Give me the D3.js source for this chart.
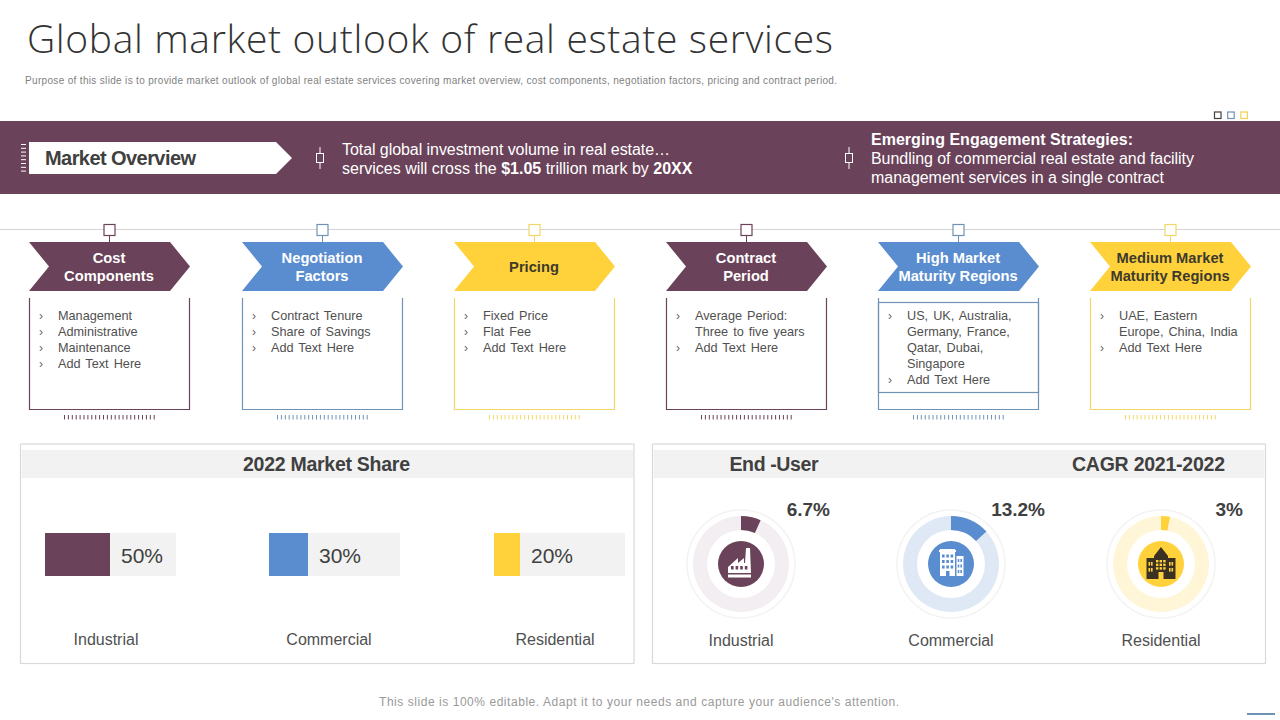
<!DOCTYPE html>
<html>
<head>
<meta charset="utf-8">
<script src="https://cdn.jsdelivr.net/npm/d3@7"></script>
<style>
  html, body { margin: 0; padding: 0; background: #fff; }
  svg { display: block; font-family: "Liberation Sans", Arial, sans-serif; }
</style>
</head>
<body>
<div id="chart"></div>
<script>
// slide data
const columnTitles = [
  ["Cost", "Components"],
  ["Negotiation", "Factors"],
  ["Pricing"],
  ["Contract", "Period"],
  ["High Market", "Maturity Regions"],
  ["Medium Market", "Maturity Regions"]
];
const columnItems = [
  [["Management"], ["Administrative"], ["Maintenance"], ["Add Text Here"]],
  [["Contract Tenure"], ["Share of Savings"], ["Add Text Here"]],
  [["Fixed Price"], ["Flat Fee"], ["Add Text Here"]],
  [["Average Period:", "Three to five years"], ["Add Text Here"]],
  [["US, UK, Australia,", "Germany, France,", "Qatar, Dubai,", "Singapore"], ["Add Text Here"]],
  [["UAE, Eastern", "Europe, China, India"], ["Add Text Here"]]
];
const segments = ["Industrial", "Commercial", "Residential"];
const shareValues = [50, 30, 20];
const cagrValues = [6.7, 13.2, 3];
const cagrLabels = ["6.7%", "13.2%", "3%"];

const purple = "#6a4259", blue = "#5a8dcf", yellow = "#ffd23c";
const segmentColors = [purple, blue, yellow];
const columnFill = [purple, blue, yellow, purple, blue, yellow];
const columnLine = ["#6a4259", "#6f93b5", "#f3d766", "#6a4259", "#6f93b5", "#f3d766"];
const columnText = ["#fff", "#fff", "#3d3a2c", "#fff", "#fff", "#3d3a2c"];
const ringTints = ["#f2eef1", "#dfe9f5", "#fff6d8"];
const textDark = "#404040";

const svg = d3.select("#chart").append("svg").attr("width", 1280).attr("height", 720);

function label(g, x, y, str, size, opts) {
  opts = opts || {};
  const t = g.append("text").attr("x", x).attr("y", y)
    .attr("font-size", size)
    .attr("fill", opts.fill || textDark)
    .attr("font-weight", opts.weight || 400)
    .attr("text-anchor", opts.anchor || "start")
    .text(str);
  if (opts.family) t.attr("font-family", opts.family);
  if (opts.length) t.attr("textLength", opts.length).attr("lengthAdjust", "spacing");
  return t;
}

// header
label(svg, 27, 53, "Global market outlook of real estate services", 39,
  { family: "'Open Sans', sans-serif", weight: 300, fill: "#333", length: 806 });
label(svg, 25, 84, "Purpose of this slide is to provide market outlook of global real estate services covering market overview, cost components, negotiation factors, pricing and contract period.", 10,
  { fill: "#7f7f7f", length: 812 });

// little squares top right
svg.selectAll("rect.dot").data(["#404040", "#6f93b5", "#f3d04f"]).enter().append("rect")
  .attr("class", "dot")
  .attr("x", (d, i) => 1214.5 + i * 13.2).attr("y", 112)
  .attr("width", 6.5).attr("height", 6.5)
  .attr("fill", "none").attr("stroke", d => d).attr("stroke-width", 1.2);

// banner
svg.append("rect").attr("x", 0).attr("y", 121).attr("width", 1280).attr("height", 73).attr("fill", purple);
svg.append("path").attr("d", "M29,142H276L292,158L276,174H29Z").attr("fill", "#fff");
svg.selectAll("line.btick").data(d3.range(8)).enter().append("line")
  .attr("class", "btick")
  .attr("x1", 21).attr("x2", 26)
  .attr("y1", d => 144.5 + d * 3.8).attr("y2", d => 144.5 + d * 3.8)
  .attr("stroke", "#fff").attr("stroke-width", 1);
label(svg, 45, 165, "Market Overview", 20, { weight: 700, length: 151 });

[320, 849].forEach(x => {
  svg.append("line").attr("x1", x).attr("x2", x).attr("y1", 147).attr("y2", 169).attr("stroke", "#fff");
  svg.append("rect").attr("x", x - 3.5).attr("y", 153.5).attr("width", 7).attr("height", 9)
    .attr("fill", purple).attr("stroke", "#fff");
});

label(svg, 342, 155, "Total global investment volume in real estate…", 16, { fill: "#fff", length: 328 });
const line2 = label(svg, 342, 174, "services will cross the ", 16, { fill: "#fff" });
line2.append("tspan").attr("font-weight", 700).text("$1.05");
line2.append("tspan").text(" trillion mark by ");
line2.append("tspan").attr("font-weight", 700).text("20XX");
label(svg, 871, 145, "Emerging Engagement Strategies:", 16, { fill: "#fff", weight: 700, length: 262 });
label(svg, 871, 164, "Bundling of commercial real estate and facility", 16, { fill: "#fff", length: 323 });
label(svg, 871, 183, "management services in a single contract", 16, { fill: "#fff", length: 293 });

// timeline rule
svg.append("line").attr("x1", 0).attr("x2", 1280).attr("y1", 229.5).attr("y2", 229.5)
  .attr("stroke", "#d4d4d4");

// six columns
const colX = d3.scalePoint().domain(d3.range(6)).range([29, 1090]);
const colW = 161;

columnTitles.forEach((title, i) => {
  const x = Math.round(colX(i) + 0.4);
  const g = svg.append("g").attr("transform", `translate(${x},0)`);
  const line = columnLine[i];

  g.append("line").attr("x1", colW / 2).attr("x2", colW / 2).attr("y1", 235).attr("y2", 242).attr("stroke", line);
  g.append("rect").attr("x", colW / 2 - 5.5).attr("y", 224.5).attr("width", 11).attr("height", 11)
    .attr("fill", "#fff").attr("stroke", line).attr("stroke-width", 1.2);

  g.append("path")
    .attr("d", `M0,242H${colW - 20}L${colW},266.5L${colW - 20},291H0L20,266.5Z`)
    .attr("fill", columnFill[i]);

  const baseY = title.length === 2 ? 263 : 272;
  title.forEach((s, k) => {
    label(g, colW / 2 - 0.5, baseY + k * 18, s, 14.7, { weight: 700, fill: columnText[i], anchor: "middle" });
  });

  // box with open top
  g.append("path").attr("d", `M0.5,298V409.5H${colW - 0.5}V298`)
    .attr("fill", "none").attr("stroke", line).attr("stroke-width", 1.2);
  if (i === 4) {
    g.append("rect").attr("x", 0.5).attr("y", 302.5).attr("width", colW - 1).attr("height", 90)
      .attr("fill", "none").attr("stroke", line).attr("stroke-width", 1.2);
  }

  // bullets
  let y = 320;
  columnItems[i].forEach(item => {
    label(g, 10, y, "›", 12, { fill: "#666" });
    item.forEach(s => {
      label(g, 29, y, s, 12.7, { fill: "#505050" }).attr("word-spacing", 1.5);
      y += 16;
    });
  });

  // tick strip
  g.selectAll("line.tick").data(d3.range(24)).enter().append("line")
    .attr("class", "tick")
    .attr("x1", d => 35.5 + d * 3.9).attr("x2", d => 35.5 + d * 3.9)
    .attr("y1", 415).attr("y2", 419.5)
    .attr("stroke", line).attr("stroke-width", 1);
});

// bottom panels
[[20.5, 613.5], [652.5, 613]].forEach(p => {
  svg.append("rect").attr("x", p[0]).attr("y", 444).attr("width", p[1]).attr("height", 219.5)
    .attr("fill", "#fff").attr("stroke", "#d9d9d9").attr("stroke-width", 1.2);
  svg.append("rect").attr("x", p[0] + 1).attr("y", 450).attr("width", p[1] - 2).attr("height", 28)
    .attr("fill", "#f2f2f2");
});
label(svg, 326.5, 471, "2022 Market Share", 19.5, { weight: 700, anchor: "middle", length: 167 });
label(svg, 774, 471, "End -User", 19.5, { weight: 700, anchor: "middle", length: 89 });
label(svg, 1148.5, 471, "CAGR 2021-2022", 19.5, { weight: 700, anchor: "middle", length: 153 });

// market share bars
const barX0 = [45, 269, 494];
const labelX = [106, 329, 555];
const shareScale = d3.scaleLinear().domain([0, 100]).range([0, 130]);

segments.forEach((name, i) => {
  const g = svg.append("g").attr("transform", `translate(${barX0[i]},533)`);
  g.append("rect").attr("width", shareScale(100) + 1).attr("height", 43).attr("fill", "#f2f2f2");
  g.append("rect").attr("width", shareScale(shareValues[i])).attr("height", 43).attr("fill", segmentColors[i]);
  label(g, shareScale(shareValues[i]) + 11, 30, shareValues[i] + "%", 21);
  label(svg, labelX[i], 645, name, 16, { anchor: "middle", fill: "#505050" });
});

// icons are drawn around the donut centre
function factoryIcon(g) {
  g.append("path").attr("fill", "#fff")
    .attr("d", "M-13,3L-3,-6V-1L3,-6V-1H4L5,-16H9L10,9H-13Z");
  g.selectAll("rect.win").data(d3.range(4)).enter().append("rect")
    .attr("class", "win").attr("x", d => -10 + d * 4.6).attr("y", 2)
    .attr("width", 2.6).attr("height", 3.5).attr("fill", purple);
  g.append("rect").attr("x", -13).attr("y", 10.5).attr("width", 23).attr("height", 3).attr("fill", "#fff");
}
function officeIcon(g) {
  g.append("rect").attr("x", -11).attr("y", -15).attr("width", 15).attr("height", 27).attr("fill", "#fff");
  g.append("rect").attr("x", 5.5).attr("y", -8).attr("width", 7).attr("height", 20).attr("fill", "#fff");
  g.append("rect").attr("x", -12).attr("y", -14).attr("width", 17).attr("height", 2).attr("fill", "#fff");
  const cells = d3.cross(d3.range(3), d3.range(3));
  g.selectAll("rect.win").data(cells).enter().append("rect")
    .attr("class", "win").attr("x", d => -9 + d[0] * 4.3).attr("y", d => -9.5 + d[1] * 5.5)
    .attr("width", 2.6).attr("height", 3).attr("fill", blue);
  g.selectAll("rect.win2").data(d3.cross(d3.range(2), d3.range(3))).enter().append("rect")
    .attr("class", "win2").attr("x", d => 6.7 + d[0] * 2.7).attr("y", d => -5 + d[1] * 5.5)
    .attr("width", 1.6).attr("height", 3).attr("fill", blue);
  g.append("rect").attr("x", -5).attr("y", 7).attr("width", 3.5).attr("height", 5).attr("fill", blue);
}
function schoolIcon(g) {
  const dark = "#3a3122";
  g.append("path").attr("fill", dark)
    .attr("d", "M-14.5,-6H-7V-8L0,-17L7,-8V-6H14.5V15H-14.5Z");
  g.selectAll("rect.win").data(d3.cross(d3.range(3), d3.range(3))).enter().append("rect")
    .attr("class", "win").attr("x", d => -5 + d[0] * 3.6).attr("y", d => -4 + d[1] * 3.6)
    .attr("width", 2.4).attr("height", 2.4).attr("fill", yellow);
  g.selectAll("rect.win2").data(d3.cross([-12.5, -10, 8, 10.5], [-2, 4])).enter().append("rect")
    .attr("class", "win2").attr("x", d => d[0]).attr("y", d => d[1])
    .attr("width", 1.6).attr("height", 3.6).attr("fill", yellow);
  g.append("rect").attr("x", -2.5).attr("y", 8).attr("width", 5).attr("height", 7).attr("fill", yellow);
}
const icons = [factoryIcon, officeIcon, schoolIcon];

// CAGR donuts
const donutX = d3.scalePoint().domain(segments).range([741, 1161]);
const cagrAngle = d3.scaleLinear().domain([0, 100]).range([0, 2 * Math.PI]);
const ringArc = d3.arc().innerRadius(34).outerRadius(48);
const valueRight = [830, 1045, 1243];

segments.forEach((name, i) => {
  const cx = donutX(name);
  const g = svg.append("g").attr("transform", `translate(${cx},564)`);
  g.append("circle").attr("r", 54).attr("fill", "#fff").attr("stroke", "#f3f3f3").attr("stroke-width", 1.5);
  g.append("path").attr("d", ringArc({ startAngle: 0, endAngle: 2 * Math.PI })).attr("fill", ringTints[i]);
  g.append("path").attr("d", ringArc({ startAngle: 0, endAngle: cagrAngle(cagrValues[i]) })).attr("fill", segmentColors[i]);
  g.append("circle").attr("r", 23).attr("fill", segmentColors[i]);
  icons[i](g);
  label(svg, cx, 646, name, 16, { anchor: "middle", fill: "#505050" });
  label(svg, valueRight[i], 516, cagrLabels[i], 19, { weight: 700, anchor: "end" });
});

// footer
label(svg, 379, 706, "This slide is 100% editable. Adapt it to your needs and capture your audience's attention.", 12,
  { fill: "#999", length: 520 });
svg.append("rect").attr("x", 1247).attr("y", 713).attr("width", 28).attr("height", 2).attr("fill", "#6f93b5");
</script>
</body>
</html>
